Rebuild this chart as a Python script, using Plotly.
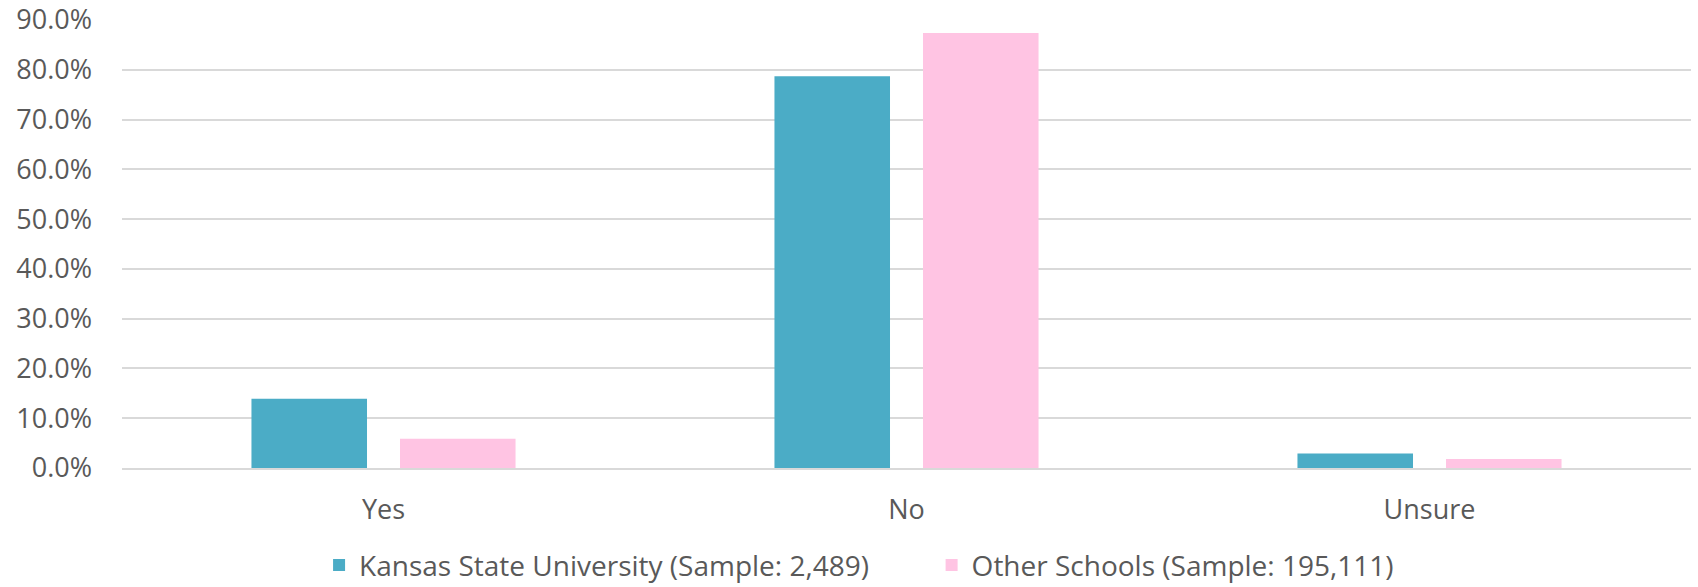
import plotly.graph_objects as go

categories = ["Yes", "No", "Unsure"]
ksu_values = [0.139, 0.787, 0.029]
other_values = [0.059, 0.874, 0.018]
ksu_name = "Kansas State University (Sample: 2,489)"
other_name = "Other Schools (Sample: 195,111)"
y_ticks = [0.0, 0.1, 0.2, 0.3, 0.4, 0.5, 0.6, 0.7, 0.8, 0.9]

FONT = "Open Sans"
TXT = "#595959"
FS = 27
LFS = 28

fig = go.Figure()
fig.add_trace(go.Bar(x=categories, y=ksu_values, name=ksu_name,
                     marker=dict(color="#4BACC6", line=dict(width=0)),
                     legend="legend"))
fig.add_trace(go.Bar(x=categories, y=other_values, name=other_name,
                     marker=dict(color="#FFC4E3", line=dict(width=0)),
                     legend="legend2"))

fig.update_layout(
    width=1698, height=587,
    margin=dict(l=122, r=7, t=20, b=119, autoexpand=False),
    paper_bgcolor="white", plot_bgcolor="white",
    barmode="group", bargap=0.432, bargroupgap=0.222,
    font=dict(family=FONT, color=TXT, size=FS),
    showlegend=True,
    legend=dict(orientation="h", x=0.1256, xanchor="left", y=-0.217, yanchor="middle",
                font=dict(family=FONT, size=LFS, color=TXT), itemwidth=30,
                bgcolor="rgba(0,0,0,0)"),
    legend2=dict(orientation="h", x=0.516, xanchor="left", y=-0.217, yanchor="middle",
                 font=dict(family=FONT, size=LFS, color=TXT), itemwidth=30,
                 bgcolor="rgba(0,0,0,0)"),
)
fig.update_xaxes(showgrid=False, showline=True, linecolor="#D9D9D9", linewidth=2,
                 ticks="", tickfont=dict(size=FS, color=TXT), ticklabelstandoff=17,
                 automargin=False)
fig.update_yaxes(range=[0, 0.9], tickvals=y_ticks, tickformat=".1%",
                 showgrid=True, gridcolor="#D9D9D9", gridwidth=2,
                 zeroline=False, showline=False, ticks="",
                 tickfont=dict(size=FS, color=TXT), ticklabelstandoff=29,
                 automargin=False)

fig.write_html("out.html",
               config={"displayModeBar": False},
               post_script="document.body.style.margin='0';document.body.style.overflow='hidden';")
